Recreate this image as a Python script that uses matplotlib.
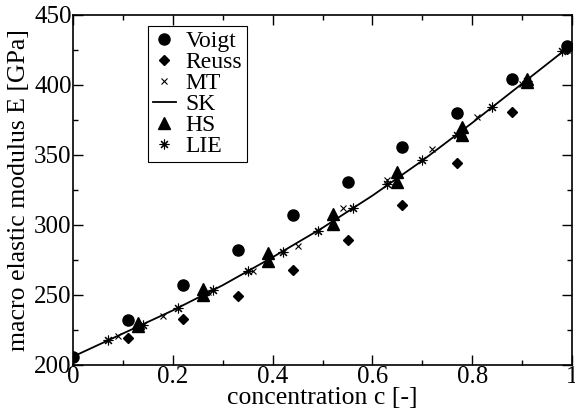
import matplotlib.pyplot as plt
from matplotlib.ticker import MultipleLocator

plt.rcParams["font.family"] = ["Liberation Serif", "DejaVu Serif"]

# concentration grids
c_voigt = [0.0, 0.11, 0.22, 0.33, 0.44, 0.55, 0.66, 0.77, 0.88, 0.99]
e_voigt = [206, 232, 257, 282, 307, 331, 356, 380, 404, 428]

c_reuss = [0.0, 0.11, 0.22, 0.33, 0.44, 0.55, 0.66, 0.77, 0.88, 0.99]
e_reuss = [206, 219, 233, 249, 267.5, 289, 314, 344, 380.5, 426]

c_mt = [0.0, 0.09, 0.18, 0.27, 0.36, 0.45, 0.54, 0.63, 0.72, 0.81, 0.90, 0.99]
e_mt = [206, 221, 235, 252, 267, 285, 312, 332, 354, 377, 401, 425]

c_sk = [0.0, 0.1, 0.2, 0.3, 0.4, 0.5, 0.6, 0.7, 0.8, 0.9, 1.0]
e_sk = [206, 222.5, 239, 257, 277, 298, 321, 346, 373, 401, 429]

c_hs = [0.13, 0.13, 0.26, 0.26, 0.39, 0.39, 0.52, 0.52, 0.65, 0.65, 0.78, 0.78, 0.91, 0.91]
e_hs = [230, 228, 254, 250, 280, 274, 308, 301, 338, 331, 370, 364, 404, 402]

c_lie = [0.07, 0.14, 0.21, 0.28, 0.35, 0.42, 0.49, 0.56, 0.63, 0.70, 0.77, 0.84, 0.91, 0.98]
e_lie = [217.5, 228.5, 241, 253.5, 267, 281, 296, 312, 329, 346.5, 364.5, 384, 403, 424]


def main():
    fig = plt.figure(figsize=(5.75, 4.16), dpi=100)
    ax = fig.add_axes([0.127, 0.1226, 0.868, 0.8414])

    ax.plot(c_voigt, e_voigt, "o", color="black", markersize=8, label="Voigt", zorder=3)
    ax.plot(c_reuss, e_reuss, "D", color="black", markersize=5.5, label="Reuss", zorder=3)
    ax.plot(c_mt, e_mt, "x", color="black", markersize=5, markeredgewidth=0.8, label="MT", zorder=3)
    ax.plot(c_sk, e_sk, "-", color="black", linewidth=1.3, label="SK", zorder=2)
    ax.plot(c_hs, e_hs, "^", color="black", markersize=8, label="HS", zorder=3)
    ax.plot(c_lie, e_lie, linestyle="none", marker=(8, 2, 0), color="black", markersize=7,
            markeredgewidth=0.8, label="LIE", zorder=3)

    ax.set_xlim(0, 1)
    ax.set_ylim(200, 450)
    ax.xaxis.set_major_locator(MultipleLocator(0.2))
    ax.xaxis.set_minor_locator(MultipleLocator(0.1))
    ax.yaxis.set_major_locator(MultipleLocator(50))
    ax.yaxis.set_minor_locator(MultipleLocator(25))
    ax.xaxis.set_major_formatter(plt.FuncFormatter(lambda v, p: f"{v:g}"))

    ax.tick_params(which="both", direction="in", top=True, right=True, width=1.0,
                   labelsize=18, pad=1)
    ax.tick_params(which="major", length=7)
    ax.tick_params(which="minor", length=3.5)
    for s in ax.spines.values():
        s.set_linewidth(1.2)

    ax.set_xlabel("concentration c [-]", fontsize=18.5, labelpad=-1)
    ax.set_ylabel("macro elastic modulus E [GPa]", fontsize=18.5, labelpad=3)

    leg = ax.legend(loc="upper left", bbox_to_anchor=(0.15, 0.969), borderaxespad=0,
                    fontsize=17, frameon=True, fancybox=False, framealpha=1,
                    edgecolor="black", handlelength=1.0, handletextpad=0.4,
                    labelspacing=-0.02, borderpad=0.2, numpoints=1)
    leg.get_frame().set_linewidth(0.8)

    fig.savefig("out.png", dpi=100)


if __name__ == "__main__":
    main()
